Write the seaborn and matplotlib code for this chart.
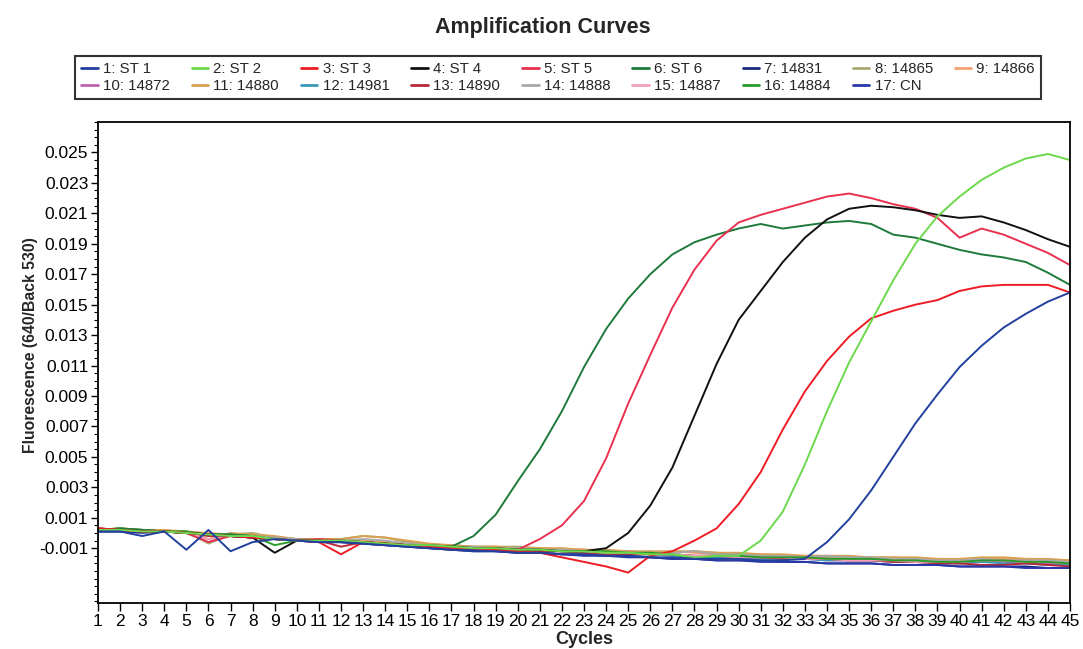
import numpy as np
import pandas as pd
import matplotlib
matplotlib.use("Agg")
import matplotlib.pyplot as plt
import seaborn as sns
from matplotlib.lines import Line2D
from matplotlib.ticker import MultipleLocator, FixedLocator, FixedFormatter

# ---------------- data ----------------
cycles = list(range(1, 46))

sample_labels = ["1: ST 1", "2: ST 2", "3: ST 3", "4: ST 4", "5: ST 5", "6: ST 6",
                 "7: 14831", "8: 14865", "9: 14866", "10: 14872", "11: 14880",
                 "12: 14981", "13: 14890", "14: 14888", "15: 14887", "16: 14884", "17: CN"]

sample_colors = ["#22409e", "#6cd84c", "#ee1c24", "#111111", "#e8304f", "#1e7a3a",
                 "#1a2a80", "#a8a870", "#f4a070", "#c060b0", "#d8a050",
                 "#3a9ab8", "#b82838", "#a8a8a8", "#f4a0b8", "#2a9a2a", "#2838a8"]

st1 = [0.0001, 0.0001, -0.0002, 0.0001, -0.0011, 0.0002, -0.0012, -0.0006, -0.0004, -0.0005,
       -0.0006, -0.0006, -0.0007, -0.0008, -0.0009, -0.0010, -0.0011, -0.0012, -0.0012, -0.0013,
       -0.0013, -0.0014, -0.0014, -0.0015, -0.0015, -0.0016, -0.0016, -0.0017, -0.0017, -0.0017,
       -0.0018, -0.0018, -0.0017, -0.0006, 0.0009, 0.0028, 0.0050, 0.0072, 0.0091, 0.0109,
       0.0123, 0.0135, 0.0144, 0.0152, 0.0158]
st2 = [0.0002, 0.0002, 0.0001, 0.0001, 0.0000, -0.0001, -0.0002, -0.0002, -0.0004, -0.0005,
       -0.0005, -0.0005, -0.0006, -0.0007, -0.0008, -0.0008, -0.0009, -0.0010, -0.0010, -0.0011,
       -0.0011, -0.0012, -0.0012, -0.0013, -0.0013, -0.0014, -0.0014, -0.0016, -0.0015, -0.0015,
       -0.0005, 0.0014, 0.0045, 0.0080, 0.0112, 0.0139, 0.0166, 0.0190, 0.0208, 0.0221,
       0.0232, 0.0240, 0.0246, 0.0249, 0.0245]
st3 = [0.0003, 0.0002, 0.0001, 0.0001, 0.0000, -0.0001, -0.0002, -0.0003, -0.0004, -0.0005,
       -0.0006, -0.0014, -0.0006, -0.0007, -0.0008, -0.0009, -0.0010, -0.0010, -0.0011, -0.0012,
       -0.0013, -0.0016, -0.0019, -0.0022, -0.0026, -0.0015, -0.0012, -0.0005, 0.0003, 0.0019,
       0.0040, 0.0068, 0.0093, 0.0113, 0.0129, 0.0141, 0.0146, 0.0150, 0.0153, 0.0159,
       0.0162, 0.0163, 0.0163, 0.0163, 0.0158]
st4 = [0.0002, 0.0002, 0.0001, 0.0001, 0.0000, -0.0001, -0.0002, -0.0003, -0.0013, -0.0005,
       -0.0005, -0.0006, -0.0006, -0.0007, -0.0008, -0.0009, -0.0009, -0.0010, -0.0010, -0.0011,
       -0.0011, -0.0012, -0.0012, -0.0010, 0.0000, 0.0018, 0.0043, 0.0077, 0.0111, 0.0140,
       0.0159, 0.0178, 0.0194, 0.0206, 0.0213, 0.0215, 0.0214, 0.0212, 0.0209, 0.0207,
       0.0208, 0.0204, 0.0199, 0.0193, 0.0188]
st5 = [0.0003, 0.0002, 0.0001, 0.0001, 0.0000, -0.0006, -0.0002, -0.0003, -0.0004, -0.0005,
       -0.0004, -0.0005, -0.0006, -0.0007, -0.0008, -0.0009, -0.0009, -0.0010, -0.0010, -0.0011,
       -0.0004, 0.0005, 0.0021, 0.0049, 0.0085, 0.0117, 0.0148, 0.0173, 0.0192, 0.0204,
       0.0209, 0.0213, 0.0217, 0.0221, 0.0223, 0.0220, 0.0216, 0.0213, 0.0207, 0.0194,
       0.0200, 0.0196, 0.0190, 0.0184, 0.0176]
st6 = [0.0002, 0.0003, 0.0002, 0.0001, 0.0000, -0.0001, -0.0001, -0.0002, -0.0004, -0.0005,
       -0.0005, -0.0005, -0.0006, -0.0007, -0.0008, -0.0009, -0.0009, -0.0002, 0.0012, 0.0034,
       0.0055, 0.0080, 0.0109, 0.0134, 0.0154, 0.0170, 0.0183, 0.0191, 0.0196, 0.0200,
       0.0203, 0.0200, 0.0202, 0.0204, 0.0205, 0.0203, 0.0196, 0.0194, 0.0190, 0.0186,
       0.0183, 0.0181, 0.0178, 0.0171, 0.0163]
s14831 = [0.0001, 0.0001, 0.0001, 0.0001, 0.0000, -0.0001, -0.0002, -0.0003, -0.0004, -0.0005,
          -0.0006, -0.0006, -0.0007, -0.0008, -0.0009, -0.0010, -0.0011, -0.0012, -0.0012, -0.0013,
          -0.0013, -0.0014, -0.0014, -0.0015, -0.0015, -0.0016, -0.0017, -0.0017, -0.0018, -0.0018,
          -0.0018, -0.0019, -0.0019, -0.0020, -0.0020, -0.0020, -0.0021, -0.0021, -0.0021, -0.0022,
          -0.0022, -0.0022, -0.0022, -0.0023, -0.0023]
s14865 = [0.0002, 0.0003, 0.0002, 0.0001, 0.0001, -0.0007, -0.0001, 0.0000, -0.0003, -0.0004,
          -0.0004, -0.0004, -0.0002, -0.0003, -0.0006, -0.0008, -0.0008, -0.0009, -0.0009, -0.0009,
          -0.0010, -0.0011, -0.0011, -0.0012, -0.0012, -0.0013, -0.0013, -0.0012, -0.0013, -0.0014,
          -0.0015, -0.0015, -0.0016, -0.0016, -0.0016, -0.0017, -0.0017, -0.0017, -0.0018, -0.0018,
          -0.0017, -0.0017, -0.0018, -0.0018, -0.0018]
s14866 = [0.0002, 0.0002, 0.0002, 0.0001, 0.0001, 0.0000, -0.0001, -0.0001, -0.0003, -0.0004,
          -0.0004, -0.0005, -0.0005, -0.0006, -0.0007, -0.0008, -0.0008, -0.0009, -0.0009, -0.0010,
          -0.0010, -0.0011, -0.0011, -0.0012, -0.0012, -0.0013, -0.0012, -0.0013, -0.0014, -0.0014,
          -0.0014, -0.0015, -0.0015, -0.0015, -0.0016, -0.0016, -0.0016, -0.0017, -0.0017, -0.0018,
          -0.0017, -0.0017, -0.0017, -0.0018, -0.0018]
s14872 = [0.0003, 0.0002, 0.0001, 0.0001, 0.0000, -0.0001, -0.0002, -0.0002, -0.0004, -0.0004,
          -0.0005, -0.0006, -0.0006, -0.0007, -0.0008, -0.0009, -0.0009, -0.0010, -0.0010, -0.0011,
          -0.0011, -0.0012, -0.0012, -0.0013, -0.0013, -0.0014, -0.0014, -0.0015, -0.0015, -0.0016,
          -0.0016, -0.0017, -0.0017, -0.0018, -0.0018, -0.0018, -0.0019, -0.0019, -0.0019, -0.0020,
          -0.0019, -0.0019, -0.0020, -0.0020, -0.0020]
s14880 = [0.0002, 0.0003, 0.0002, 0.0002, 0.0001, -0.0004, 0.0000, -0.0001, -0.0002, -0.0004,
          -0.0004, -0.0004, -0.0002, -0.0003, -0.0005, -0.0007, -0.0008, -0.0009, -0.0009, -0.0010,
          -0.0010, -0.0010, -0.0011, -0.0011, -0.0012, -0.0012, -0.0012, -0.0012, -0.0013, -0.0013,
          -0.0014, -0.0014, -0.0015, -0.0015, -0.0015, -0.0016, -0.0016, -0.0016, -0.0017, -0.0017,
          -0.0016, -0.0016, -0.0017, -0.0017, -0.0018]
s14981 = [0.0002, 0.0002, 0.0001, 0.0001, 0.0000, -0.0001, -0.0001, -0.0003, -0.0004, -0.0005,
          -0.0005, -0.0006, -0.0006, -0.0007, -0.0008, -0.0009, -0.0010, -0.0010, -0.0011, -0.0011,
          -0.0012, -0.0012, -0.0013, -0.0013, -0.0014, -0.0014, -0.0015, -0.0015, -0.0016, -0.0016,
          -0.0017, -0.0017, -0.0017, -0.0018, -0.0018, -0.0018, -0.0019, -0.0019, -0.0020, -0.0020,
          -0.0019, -0.0020, -0.0020, -0.0021, -0.0021]
s14890 = [0.0003, 0.0002, 0.0002, 0.0001, 0.0000, -0.0002, -0.0002, -0.0003, -0.0004, -0.0004,
          -0.0005, -0.0009, -0.0006, -0.0007, -0.0008, -0.0008, -0.0009, -0.0010, -0.0010, -0.0011,
          -0.0012, -0.0012, -0.0013, -0.0014, -0.0014, -0.0014, -0.0014, -0.0015, -0.0015, -0.0016,
          -0.0016, -0.0017, -0.0017, -0.0017, -0.0018, -0.0018, -0.0019, -0.0019, -0.0020, -0.0020,
          -0.0021, -0.0021, -0.0020, -0.0021, -0.0022]
s14888 = [0.0002, 0.0002, 0.0002, 0.0001, 0.0000, -0.0006, -0.0001, -0.0002, -0.0003, -0.0004,
          -0.0005, -0.0005, -0.0004, -0.0005, -0.0007, -0.0008, -0.0009, -0.0009, -0.0010, -0.0010,
          -0.0011, -0.0011, -0.0012, -0.0012, -0.0013, -0.0013, -0.0013, -0.0012, -0.0014, -0.0014,
          -0.0015, -0.0015, -0.0016, -0.0015, -0.0016, -0.0016, -0.0017, -0.0017, -0.0018, -0.0018,
          -0.0017, -0.0018, -0.0018, -0.0018, -0.0019]
s14887 = [0.0002, 0.0002, 0.0001, 0.0001, 0.0000, -0.0004, -0.0002, -0.0002, -0.0004, -0.0005,
          -0.0005, -0.0005, -0.0006, -0.0007, -0.0008, -0.0009, -0.0009, -0.0010, -0.0010, -0.0011,
          -0.0011, -0.0012, -0.0012, -0.0013, -0.0013, -0.0014, -0.0014, -0.0015, -0.0015, -0.0016,
          -0.0016, -0.0016, -0.0017, -0.0017, -0.0018, -0.0018, -0.0018, -0.0019, -0.0019, -0.0019,
          -0.0018, -0.0018, -0.0019, -0.0019, -0.0020]
s14884 = [0.0002, 0.0003, 0.0002, 0.0001, 0.0001, -0.0001, -0.0001, -0.0002, -0.0008, -0.0005,
          -0.0005, -0.0005, -0.0006, -0.0007, -0.0008, -0.0008, -0.0009, -0.0010, -0.0010, -0.0011,
          -0.0011, -0.0012, -0.0012, -0.0012, -0.0013, -0.0013, -0.0014, -0.0017, -0.0015, -0.0015,
          -0.0016, -0.0016, -0.0016, -0.0017, -0.0017, -0.0017, -0.0018, -0.0018, -0.0019, -0.0019,
          -0.0018, -0.0018, -0.0019, -0.0019, -0.0020]
s_cn = [0.0001, 0.0001, 0.0000, 0.0001, 0.0000, -0.0001, -0.0002, -0.0003, -0.0004, -0.0005,
        -0.0006, -0.0006, -0.0007, -0.0008, -0.0009, -0.0010, -0.0011, -0.0011, -0.0012, -0.0013,
        -0.0013, -0.0014, -0.0015, -0.0015, -0.0016, -0.0016, -0.0017, -0.0017, -0.0018, -0.0018,
        -0.0019, -0.0019, -0.0019, -0.0020, -0.0020, -0.0020, -0.0021, -0.0021, -0.0021, -0.0022,
        -0.0022, -0.0022, -0.0023, -0.0023, -0.0023]

series_values = [st1, st2, st3, st4, st5, st6, s14831, s14865, s14866, s14872, s14880,
                 s14981, s14890, s14888, s14887, s14884, s_cn]

y_tick_values = [-0.001, 0.001, 0.003, 0.005, 0.007, 0.009, 0.011, 0.013,
                 0.015, 0.017, 0.019, 0.021, 0.023, 0.025]
y_tick_labels = ["-0.001", "0.001", "0.003", "0.005", "0.007", "0.009", "0.011", "0.013",
                 "0.015", "0.017", "0.019", "0.021", "0.023", "0.025"]
x_tick_labels = [str(c) for c in cycles]

# ---------------- style ----------------
sns.set_style("white")
plt.rcParams["font.family"] = ["Liberation Sans", "DejaVu Sans"]

W, H = 1083, 649
fig = plt.figure(figsize=(W / 100, H / 100), dpi=100)
ax = fig.add_axes([98 / W, 1 - 603 / H, (1070 - 98) / W, (603 - 122) / H])

df = pd.DataFrame({
    "Cycle": np.tile(cycles, len(sample_labels)),
    "Fluorescence": np.concatenate([np.asarray(v, dtype=float) for v in series_values]),
    "Sample": np.repeat(sample_labels, len(cycles)),
})
palette = dict(zip(sample_labels, sample_colors))
draw_order = sample_labels[6:] + sample_labels[:6][::-1]

sns.lineplot(data=df, x="Cycle", y="Fluorescence", hue="Sample", hue_order=draw_order,
             palette=palette, estimator=None, linewidth=1.4, legend=False, ax=ax)

ax.set_xlim(1, 45)
ax.set_ylim(-0.0046, 0.0270)
ax.xaxis.set_major_locator(FixedLocator(cycles))
ax.xaxis.set_major_formatter(FixedFormatter(x_tick_labels))
ax.yaxis.set_major_locator(FixedLocator(y_tick_values))
ax.yaxis.set_major_formatter(FixedFormatter(y_tick_labels))
ax.yaxis.set_minor_locator(MultipleLocator(0.0005))

ax.tick_params(axis="both", which="major", direction="out", length=5, width=1.0,
               color="black", labelsize=12.5, labelcolor="black", pad=2,
               bottom=True, left=True)
ax.tick_params(axis="y", which="minor", direction="out", length=3, width=0.8,
               color="black", left=True)
ax.tick_params(axis="x", which="major", length=6)
for s in ax.spines.values():
    s.set_visible(True)
    s.set_color("black")
    s.set_linewidth(1.3)

ax.set_xlabel("Cycles", fontsize=13, fontweight="bold", labelpad=1)
ax.set_ylabel("Fluorescence (640/Back 530)", fontsize=11.3, fontweight="bold")
ax.yaxis.set_label_coords((38 - 98) / (1070 - 98), (603 - 345) / (603 - 122))

fig.text(543 / W, 1 - 27 / H, "Amplification Curves", ha="center", va="center",
         fontsize=15.5, fontweight="bold")

# legend: row-wise order (1..9 on row 1, 10..17 on row 2)
order = [0, 9, 1, 10, 2, 11, 3, 12, 4, 13, 5, 14, 6, 15, 7, 16, 8]
handles = [Line2D([0], [0], color=sample_colors[i], lw=2) for i in order]
labs = [sample_labels[i] for i in order]
leg = fig.legend(handles, labs, loc="lower left",
                 bbox_to_anchor=(75 / W, 1 - 99 / H, 966 / W, 45 / H), mode="expand",
                 ncol=9, frameon=True, fancybox=False, edgecolor="black", fontsize=10.8,
                 handlelength=1.1, handletextpad=0.35, labelspacing=0.2, borderpad=0.4,
                 columnspacing=0.6, borderaxespad=0)
leg.get_frame().set_linewidth(1.5)

fig.savefig("out.png", dpi=100, facecolor="white")
